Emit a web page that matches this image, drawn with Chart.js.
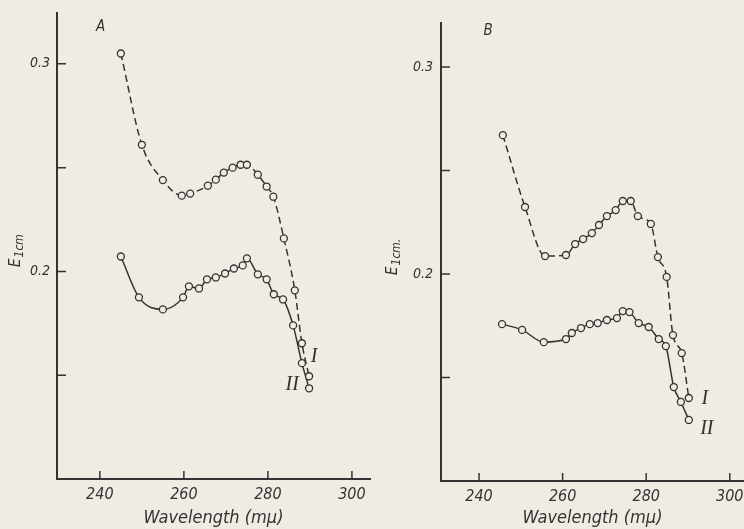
<!DOCTYPE html>
<html>
<head>
<meta charset="utf-8">
<script src="https://cdn.jsdelivr.net/npm/chart.js@4.4.1/dist/chart.umd.min.js"></script>
<style>
  html, body { margin: 0; padding: 0; background: #f0ece3; }
  #wrap { position: relative; width: 744px; height: 529px; overflow: hidden; background: #f0ece3; }
  .panel { position: absolute; top: 0; width: 372px; height: 529px; }
  #panelA { left: 0; }
  #panelB { left: 372px; }
</style>
</head>
<body>
<div id="wrap">
  <div class="panel" id="panelA"><canvas id="chartA"></canvas></div>
  <div class="panel" id="panelB"><canvas id="chartB"></canvas></div>
</div>
<script>
// Panel A - curve I (dashed) and curve II (solid)
const wavelengthA1 = [245, 250, 255, 259.5, 261.5, 265.7, 267.6, 269.5, 271.6, 273.5, 275, 277.6, 279.7, 281.3, 283.8, 286.4, 288.1, 289.8];
const extinctionA1 = [0.305, 0.261, 0.244, 0.2365, 0.2375, 0.2413, 0.2442, 0.2476, 0.250, 0.2514, 0.2514, 0.2466, 0.2409, 0.236, 0.2159, 0.1909, 0.1654, 0.1495];
const wavelengthA2 = [245, 249.3, 255, 259.8, 261.2, 263.6, 265.5, 267.6, 269.8, 271.9, 274, 275, 277.6, 279.7, 281.4, 283.6, 286, 288.1, 289.8];
const extinctionA2 = [0.2072, 0.1875, 0.1817, 0.1875, 0.1928, 0.1918, 0.1962, 0.1971, 0.199, 0.2014, 0.2029, 0.2063, 0.1986, 0.1962, 0.189, 0.1865, 0.174, 0.1558, 0.1437];

// Panel B
const wavelengthB1 = [245.7, 251, 255.8, 260.8, 263, 264.9, 267, 268.7, 270.6, 272.7, 274.4, 276.3, 278, 281.1, 282.8, 284.9, 286.4, 288.5, 290.2];
const extinctionB1 = [0.2671, 0.2324, 0.2087, 0.2092, 0.2145, 0.2169, 0.2198, 0.2237, 0.228, 0.2309, 0.2353, 0.2353, 0.228, 0.2242, 0.2082, 0.1986, 0.1705, 0.1618, 0.1401];
const wavelengthB2 = [245.5, 250.3, 255.5, 260.8, 262.2, 264.4, 266.5, 268.4, 270.6, 273, 274.4, 276, 278.2, 280.6, 283, 284.7, 286.6, 288.3, 290.2];
const extinctionB2 = [0.1758, 0.173, 0.1671, 0.1686, 0.1715, 0.1739, 0.1758, 0.1763, 0.1778, 0.1787, 0.1821, 0.1816, 0.1763, 0.1744, 0.1686, 0.1652, 0.1454, 0.1382, 0.1295];

// axes
const xTicks = [240, 260, 280, 300];
const yTicks = [0.15, 0.2, 0.25, 0.3];
const yLabelled = [0.2, 0.3];

const paper = '#f0ece3';
const ink = '#333333';
const sansFamily = "'Liberation Sans Narrow', 'DejaVu Sans Condensed', 'Liberation Sans', sans-serif";
const serifFamily = "'Liberation Serif', 'DejaVu Serif', serif";

const toPoints = (xs, ys) => xs.map((x, i) => ({ x: x, y: ys[i] }));

const curveStyle = (dashed) => ({
  borderColor: ink,
  borderWidth: 1.5,
  borderDash: dashed ? [7, 4] : [],
  pointRadius: 3.5,
  pointBorderWidth: 1.3,
  pointBorderColor: ink,
  pointBackgroundColor: paper,
  cubicInterpolationMode: 'monotone',
  fill: false
});

// inward tick marks, panel letter, curve labels and the E1cm axis title
const panelMarks = (p) => ({
  id: 'panelMarks' + p.letter,
  afterDraw: (chart) => {
    const c = chart.ctx;
    const xs = chart.scales.x;
    const ys = chart.scales.y;
    const area = chart.chartArea;
    c.save();
    c.strokeStyle = ink;
    c.lineWidth = 1.5;
    c.beginPath();
    xTicks.forEach(v => {
      const px = xs.getPixelForValue(v);
      c.moveTo(px, area.bottom);
      c.lineTo(px, area.bottom - 8);
    });
    yTicks.forEach(v => {
      const py = ys.getPixelForValue(v);
      c.moveTo(area.left, py);
      c.lineTo(area.left + 9, py);
    });
    c.stroke();

    c.fillStyle = ink;
    c.textAlign = 'center';
    c.textBaseline = 'middle';
    c.font = 'italic 15px ' + sansFamily;
    c.fillText(p.letter, xs.getPixelForValue(p.letterAt[0]), ys.getPixelForValue(p.letterAt[1]));

    c.font = 'italic 20px ' + serifFamily;
    c.fillText('I', xs.getPixelForValue(p.labelI[0]), ys.getPixelForValue(p.labelI[1]));
    c.fillText('II', xs.getPixelForValue(p.labelII[0]), ys.getPixelForValue(p.labelII[1]));

    // rotated E with subscript
    c.translate(p.titleX, p.titleY);
    c.rotate(-Math.PI / 2);
    c.textAlign = 'left';
    c.textBaseline = 'alphabetic';
    c.font = 'italic 15px ' + sansFamily;
    c.fillText('E', 0, 0);
    const w = c.measureText('E').width;
    c.font = 'italic 12px ' + sansFamily;
    c.fillText(p.sub, w + 1, 3);
    c.restore();
  }
});

const makePanel = (canvasId, p) => new Chart(document.getElementById(canvasId), {
  type: 'line',
  data: {
    datasets: [
      Object.assign({ label: 'I', data: toPoints(p.x1, p.y1) }, curveStyle(true)),
      Object.assign({ label: 'II', data: toPoints(p.x2, p.y2) }, curveStyle(false))
    ]
  },
  options: {
    responsive: true,
    maintainAspectRatio: false,
    animation: false,
    layout: { autoPadding: false, padding: { left: 0, right: p.padRight, top: p.padTop, bottom: 0 } },
    plugins: { legend: { display: false }, tooltip: { enabled: false } },
    scales: {
      x: {
        type: 'linear',
        min: p.xMin,
        max: p.xMax,
        afterBuildTicks: s => { s.ticks = xTicks.map(v => ({ value: v })); },
        afterFit: s => { s.height = p.xHeight; s.paddingLeft = 0; s.paddingRight = 0; },
        grid: { display: false, drawTicks: false },
        border: { display: true, color: ink, width: 2 },
        ticks: { color: ink, padding: 6, maxRotation: 0, font: { family: sansFamily, style: 'italic', size: 16 } },
        title: {
          display: true,
          text: 'Wavelength (mμ)',
          color: ink,
          padding: { top: 0, bottom: 0 },
          font: { family: sansFamily, style: 'italic', size: 18 }
        }
      },
      y: {
        type: 'linear',
        min: 0.1,
        max: p.yMax,
        afterBuildTicks: s => { s.ticks = yTicks.map(v => ({ value: v })); },
        afterFit: s => { s.width = p.yWidth; s.paddingTop = 0; s.paddingBottom = 0; },
        grid: { display: false, drawTicks: false },
        border: { display: true, color: ink, width: 2 },
        ticks: {
          color: ink,
          padding: p.yPad,
          font: { family: sansFamily, style: 'italic', size: 14 },
          callback: v => yLabelled.some(l => Math.abs(l - v) < 1e-6) ? v.toFixed(1) : ''
        }
      }
    }
  },
  plugins: [panelMarks(p)]
});

makePanel('chartA', {
  letter: 'A', sub: '1cm',
  x1: wavelengthA1, y1: extinctionA1, x2: wavelengthA2, y2: extinctionA2,
  xMin: 229.8, xMax: 304.3, yMax: 0.3245,
  padTop: 13, padRight: 2, xHeight: 50, yWidth: 57, yPad: 7,
  letterAt: [240.2, 0.3178], labelI: [291, 0.159], labelII: [285.8, 0.1455],
  titleX: 20, titleY: 267
});

makePanel('chartB', {
  letter: 'B', sub: '1cm.',
  x1: wavelengthB1, y1: extinctionB1, x2: wavelengthB2, y2: extinctionB2,
  xMin: 230.9, xMax: 303.4, yMax: 0.3213,
  padTop: 23, padRight: 0, xHeight: 48, yWidth: 69, yPad: 8,
  letterAt: [242.2, 0.3174], labelI: [294, 0.1396], labelII: [294.5, 0.1251],
  titleX: 25, titleY: 275
});
</script>
</body>
</html>
